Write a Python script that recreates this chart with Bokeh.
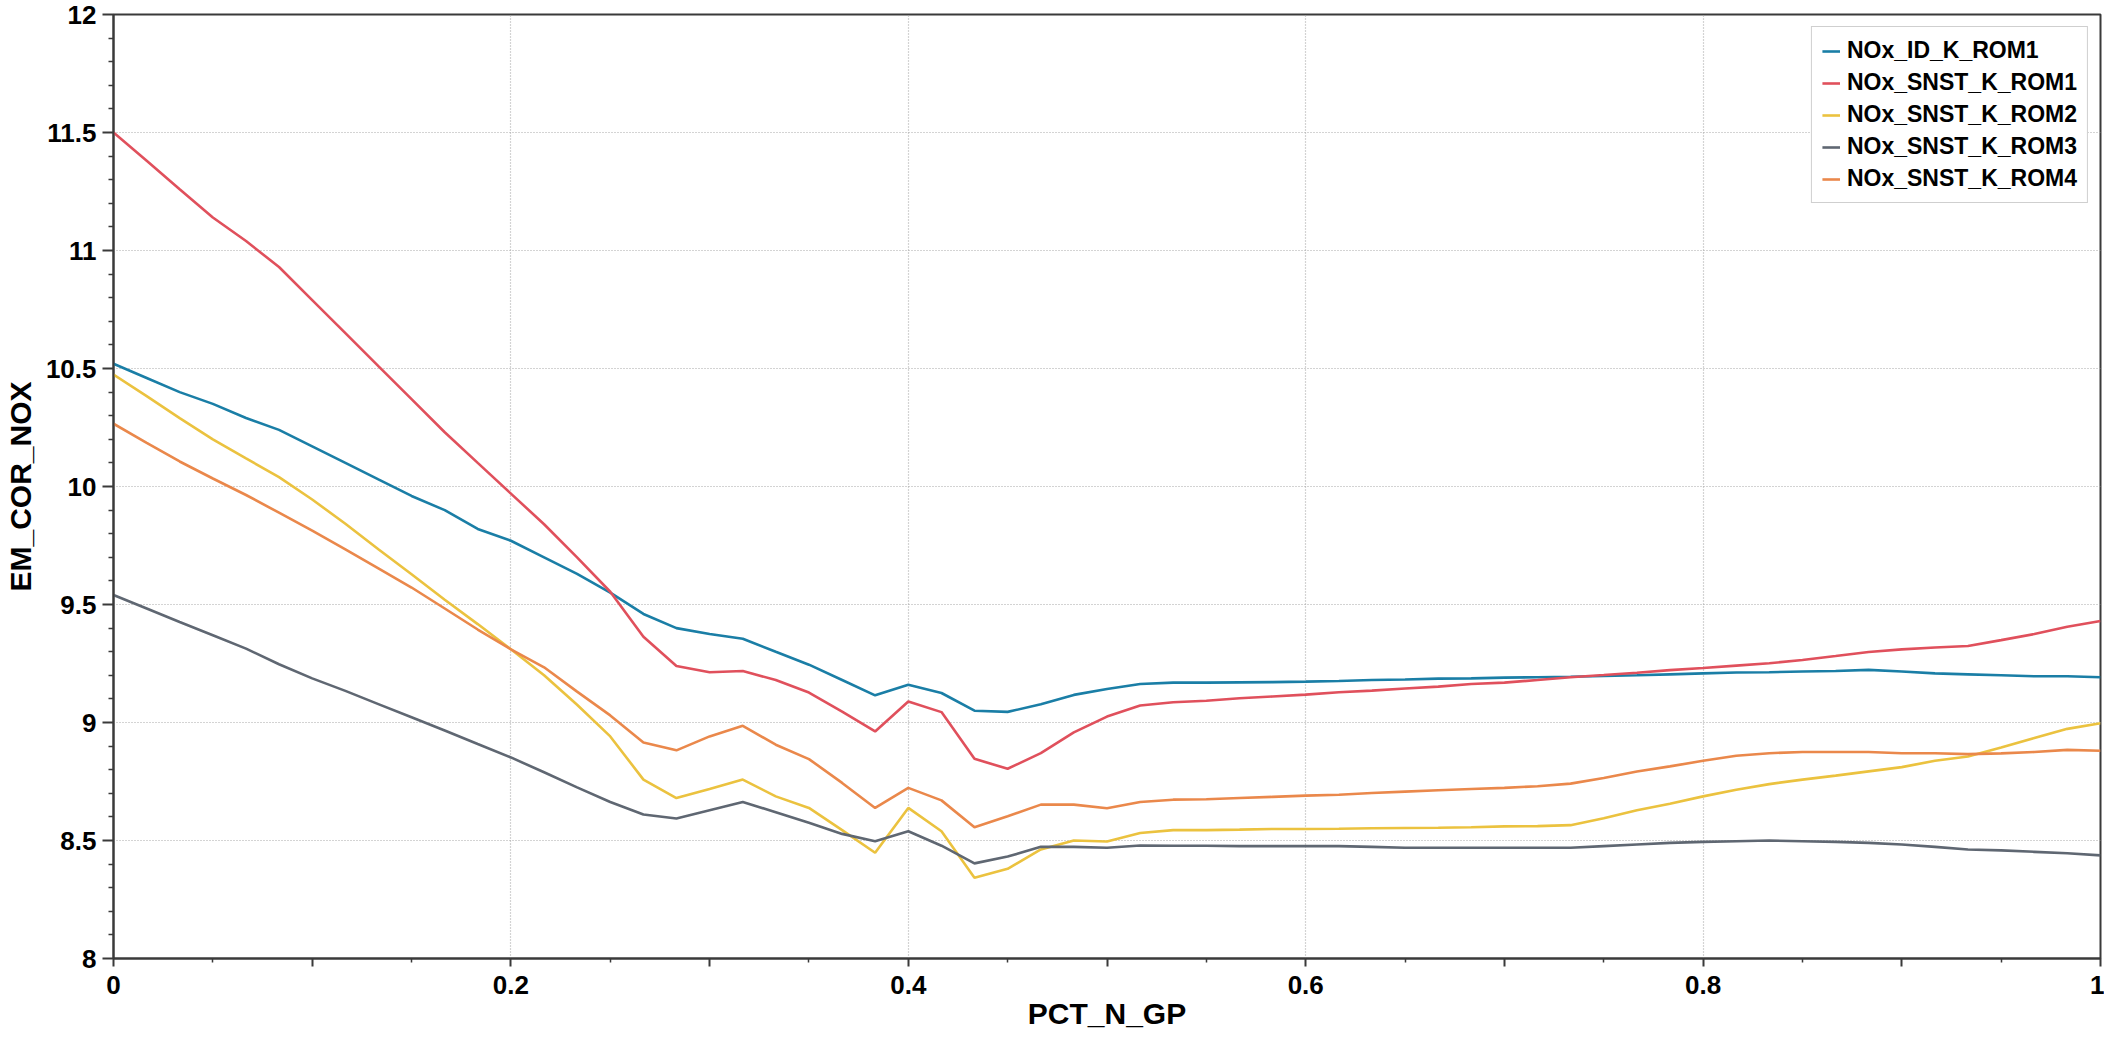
from bokeh.plotting import figure
from bokeh.models import (Range1d, FixedTicker, CustomJSTickFormatter, Legend, LegendItem)
from bokeh.embed import file_html
from bokeh.resources import INLINE

# ---------------- data ----------------
pct_n_gp = [0, 0.0167, 0.0333, 0.05, 0.0667, 0.0833, 0.1, 0.1167, 0.1333, 0.15,
            0.1667, 0.1833, 0.2, 0.2167, 0.2333, 0.25, 0.2667, 0.2833, 0.3, 0.3167,
            0.3333, 0.35, 0.3667, 0.3833, 0.4, 0.4167, 0.4333, 0.45, 0.4667, 0.4833,
            0.5, 0.5167, 0.5333, 0.55, 0.5667, 0.5833, 0.6, 0.6167, 0.6333, 0.65,
            0.6667, 0.6833, 0.7, 0.7167, 0.7333, 0.75, 0.7667, 0.7833, 0.8, 0.8167,
            0.8333, 0.85, 0.8667, 0.8833, 0.9, 0.9167, 0.9333, 0.95, 0.9667, 0.9833, 1]

nox_id_k_rom1 = [10.52, 10.46, 10.40, 10.35, 10.29, 10.24, 10.17, 10.10, 10.03, 9.96,
                 9.90, 9.82, 9.77, 9.70, 9.63, 9.55, 9.46, 9.40, 9.375, 9.355,
                 9.30, 9.245, 9.18, 9.115, 9.16, 9.125, 9.05, 9.045, 9.077, 9.117,
                 9.142, 9.163, 9.169, 9.169, 9.17, 9.171, 9.173, 9.176, 9.18, 9.182,
                 9.186, 9.187, 9.19, 9.192, 9.194, 9.197, 9.20, 9.204, 9.208, 9.212,
                 9.213, 9.216, 9.218, 9.223, 9.216, 9.208, 9.204, 9.20, 9.196, 9.196, 9.192]

nox_snst_k_rom1 = [11.50, 11.38, 11.26, 11.14, 11.04, 10.93, 10.79, 10.65, 10.51, 10.37,
                   10.23, 10.10, 9.97, 9.84, 9.70, 9.554, 9.363, 9.239, 9.213, 9.218,
                   9.18, 9.127, 9.046, 8.962, 9.089, 9.044, 8.846, 8.804, 8.87, 8.958,
                   9.025, 9.072, 9.086, 9.092, 9.103, 9.11, 9.118, 9.128, 9.135, 9.144,
                   9.152, 9.163, 9.169, 9.18, 9.192, 9.201, 9.211, 9.222, 9.231, 9.241,
                   9.251, 9.265, 9.282, 9.299, 9.31, 9.318, 9.324, 9.349, 9.375, 9.406, 9.43]

nox_snst_k_rom2 = [10.474, 10.383, 10.29, 10.20, 10.119, 10.04, 9.945, 9.842, 9.734, 9.628,
                   9.52, 9.417, 9.31, 9.20, 9.075, 8.941, 8.758, 8.68, 8.718, 8.758,
                   8.687, 8.638, 8.544, 8.448, 8.638, 8.539, 8.342, 8.38, 8.462, 8.50,
                   8.496, 8.532, 8.544, 8.544, 8.546, 8.549, 8.549, 8.55, 8.552, 8.553,
                   8.554, 8.556, 8.56, 8.561, 8.565, 8.594, 8.628, 8.656, 8.687, 8.715,
                   8.739, 8.758, 8.775, 8.793, 8.811, 8.838, 8.856, 8.894, 8.934, 8.973, 8.997]

nox_snst_k_rom3 = [9.54, 9.483, 9.426, 9.37, 9.313, 9.247, 9.187, 9.134, 9.078, 9.022,
                   8.966, 8.909, 8.852, 8.789, 8.725, 8.663, 8.61, 8.593, 8.628, 8.663,
                   8.62, 8.575, 8.528, 8.497, 8.539, 8.478, 8.403, 8.432, 8.473, 8.473,
                   8.469, 8.479, 8.478, 8.478, 8.476, 8.476, 8.476, 8.476, 8.473, 8.469,
                   8.469, 8.469, 8.469, 8.469, 8.469, 8.476, 8.483, 8.49, 8.494, 8.497,
                   8.50, 8.497, 8.494, 8.49, 8.483, 8.473, 8.462, 8.458, 8.452, 8.446, 8.437]

nox_snst_k_rom4 = [10.266, 10.185, 10.106, 10.034, 9.964, 9.889, 9.813, 9.734, 9.653, 9.572,
                   9.483, 9.394, 9.31, 9.234, 9.131, 9.03, 8.915, 8.882, 8.941, 8.986,
                   8.906, 8.845, 8.744, 8.638, 8.723, 8.67, 8.556, 8.603, 8.652, 8.652,
                   8.637, 8.663, 8.673, 8.675, 8.68, 8.685, 8.69, 8.694, 8.701, 8.707,
                   8.713, 8.718, 8.723, 8.73, 8.741, 8.765, 8.792, 8.814, 8.838, 8.859,
                   8.87, 8.875, 8.875, 8.875, 8.87, 8.87, 8.866, 8.869, 8.875, 8.884, 8.88]

series_names = ["NOx_ID_K_ROM1", "NOx_SNST_K_ROM1", "NOx_SNST_K_ROM2",
                "NOx_SNST_K_ROM3", "NOx_SNST_K_ROM4"]
series_values = [nox_id_k_rom1, nox_snst_k_rom1, nox_snst_k_rom2,
                 nox_snst_k_rom3, nox_snst_k_rom4]
series_colors = ["#1a7ea6", "#e0505c", "#ebc23f", "#5f6772", "#ea884b"]

x_major_ticks = [0, 0.1, 0.2, 0.3, 0.4, 0.5, 0.6, 0.7, 0.8, 0.9, 1]
x_minor_ticks = [0.05, 0.15, 0.25, 0.35, 0.45, 0.55, 0.65, 0.75, 0.85, 0.95]
x_grid_ticks = [0.2, 0.4, 0.6, 0.8]
y_major_ticks = [8, 8.5, 9, 9.5, 10, 10.5, 11, 11.5, 12]
y_minor_ticks = [8.1, 8.2, 8.3, 8.4, 8.6, 8.7, 8.8, 8.9, 9.1, 9.2, 9.3, 9.4,
                 9.6, 9.7, 9.8, 9.9, 10.1, 10.2, 10.3, 10.4, 10.6, 10.7, 10.8, 10.9,
                 11.1, 11.2, 11.3, 11.4, 11.6, 11.7, 11.8, 11.9]

x_title = "PCT_N_GP"
y_title = "EM_COR_NOX"

FONT = "Liberation Sans"

p = figure(width=2104, height=1039, output_backend="svg", toolbar_location=None,
           x_range=Range1d(0, 1), y_range=Range1d(8, 12),
           min_border_left=112, min_border_top=14, min_border_right=4, min_border_bottom=81)

p.background_fill_color = "white"
p.border_fill_color = "white"
p.outline_line_color = "#3a3a3a"
p.outline_line_width = 2

renderers = []
for name, vals, col in zip(series_names, series_values, series_colors):
    r = p.line(pct_n_gp, vals, line_color=col, line_width=2.6)
    renderers.append((name, r))

# axes
xa = p.xaxis[0]
xa.ticker = FixedTicker(ticks=x_major_ticks, minor_ticks=x_minor_ticks)
xa.formatter = CustomJSTickFormatter(code="""
const k = Math.round(tick*10);
if (k % 2 != 0) return "";
if (k == 0) return "0";
if (k == 10) return "1";
return (k/10).toFixed(1);
""")
xa.axis_label = x_title
ya = p.yaxis[0]
ya.ticker = FixedTicker(ticks=y_major_ticks, minor_ticks=y_minor_ticks)
ya.formatter = CustomJSTickFormatter(code="""
return Number.isInteger(tick) ? tick.toFixed(0) : tick.toFixed(1);
""")
ya.axis_label = y_title

for ax in (xa, ya):
    ax.axis_line_color = "#3a3a3a"
    ax.axis_line_width = 2
    ax.major_tick_line_color = "#3a3a3a"
    ax.minor_tick_line_color = "#3a3a3a"
    ax.major_tick_line_width = 2
    ax.minor_tick_line_width = 1.5
    ax.major_tick_in = 0
    ax.minor_tick_in = 0
    ax.major_label_text_font = FONT
    ax.major_label_text_font_style = "bold"
    ax.major_label_text_font_size = "26px"
    ax.major_label_text_color = "black"
    ax.axis_label_text_font = FONT
    ax.axis_label_text_font_style = "bold"
    ax.axis_label_text_font_size = "30px"
    ax.axis_label_text_color = "black"

xa.major_tick_out = 8
xa.minor_tick_out = 4
xa.major_label_standoff = 9
xa.axis_label_standoff = 0
ya.major_tick_out = 11
ya.minor_tick_out = 5
ya.major_label_standoff = 6
ya.axis_label_standoff = 6

# grid
p.xgrid.ticker = FixedTicker(ticks=x_grid_ticks)
p.ygrid.ticker = FixedTicker(ticks=y_major_ticks)
for g in (p.xgrid, p.ygrid):
    g.grid_line_color = "#a8a8a8"
    g.grid_line_dash = "1 2"
    g.grid_line_width = 1.2

# legend
legend = Legend(items=[LegendItem(label=n, renderers=[r]) for n, r in renderers],
                location="top_right")
legend.label_text_font = FONT
legend.label_text_font_style = "bold"
legend.label_text_font_size = "23px"
legend.label_text_color = "black"
legend.glyph_width = 18
legend.glyph_height = 20
legend.label_height = 20
legend.label_standoff = 7
legend.spacing = 5
legend.padding = 10
legend.margin = 12
legend.border_line_color = "#a0a0a0"
legend.border_line_width = 1.5
legend.background_fill_color = "white"
legend.background_fill_alpha = 1
p.add_layout(legend)

open("out.html", "w").write(file_html(p, INLINE))
